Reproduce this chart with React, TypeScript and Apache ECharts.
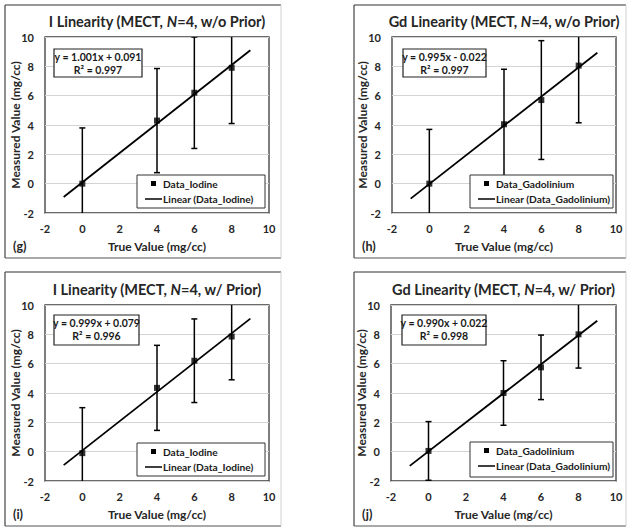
import React, { useEffect, useRef } from "react";
import * as echarts from "echarts";

// ---- data ----
const trueValues = [0, 4, 6, 8];

const iodineNoPriorMeasured = [0.0, 4.3, 6.2, 7.9];
const iodineNoPriorError = [3.8, 3.55, 3.8, 3.8];
const gdNoPriorMeasured = [0.0, 4.05, 5.7, 8.05];
const gdNoPriorError = [3.7, 3.75, 4.05, 3.9];
const iodinePriorMeasured = [-0.1, 4.35, 6.2, 7.85];
const iodinePriorError = [3.1, 2.9, 2.85, 2.95];
const gdPriorMeasured = [0.05, 4.0, 5.75, 8.0];
const gdPriorError = [2.0, 2.2, 2.2, 2.3];

// trend line end points (x = -1 and x = 9)
const iodineNoPriorTrend = [[-1, -0.91], [9, 9.1]];
const gdNoPriorTrend = [[-1, -1.02], [9, 8.93]];
const iodinePriorTrend = [[-1, -0.92], [9, 9.07]];
const gdPriorTrend = [[-1, -0.97], [9, 8.93]];

const equations = ["y = 1.001x + 0.091", "y = 0.995x - 0.022", "y = 0.999x + 0.079", "y = 0.990x + 0.022"];
const rSquared = ["R² = 0.997", "R² = 0.997", "R² = 0.996", "R² = 0.998"];
const elements = ["I", "Gd", "I", "Gd"];
const priorLabels = ["w/o Prior", "w/o Prior", "w/ Prior", "w/ Prior"];
const seriesNames = ["Data_Iodine", "Data_Gadolinium", "Data_Iodine", "Data_Gadolinium"];
const panelLabels = ["(g)", "(h)", "(i)", "(j)"];

const FONT = "Lato";

type Panel = {
  measured: number[];
  error: number[];
  trend: number[][];
  grid: { left: number; top: number; width: number; height: number };
  frame: [number, number, number, number];
  eqBox: [number, number, number, number];
  legendBox: [number, number, number, number];
};

const panels: Panel[] = [
  {
    measured: iodineNoPriorMeasured, error: iodineNoPriorError, trend: iodineNoPriorTrend,
    grid: { left: 45, top: 37, width: 224, height: 176 },
    frame: [5, 5, 281, 258], eqBox: [54, 49, 142, 77], legendBox: [137, 175, 265, 208],
  },
  {
    measured: gdNoPriorMeasured, error: gdNoPriorError, trend: gdNoPriorTrend,
    grid: { left: 392, top: 37, width: 224, height: 176 },
    frame: [354, 5, 626, 258], eqBox: [403, 49, 486, 77], legendBox: [470, 175, 613, 208],
  },
  {
    measured: iodinePriorMeasured, error: iodinePriorError, trend: iodinePriorTrend,
    grid: { left: 45, top: 305, width: 224, height: 176 },
    frame: [5, 272, 281, 526], eqBox: [54, 315, 139, 345], legendBox: [137, 443, 265, 476],
  },
  {
    measured: gdPriorMeasured, error: gdPriorError, trend: gdPriorTrend,
    grid: { left: 391, top: 305, width: 225, height: 176 },
    frame: [354, 272, 626, 526], eqBox: [402, 315, 486, 345], legendBox: [470, 442, 613, 477],
  },
];

export default function App() {
  const ref = useRef<HTMLDivElement>(null);

  useEffect(() => {
    if (!ref.current) return;
    const chart = echarts.init(ref.current, undefined, { renderer: "svg" });

    const grids: any[] = [];
    const xAxes: any[] = [];
    const yAxes: any[] = [];
    const series: any[] = [];
    const titles: any[] = [];
    const graphics: any[] = [];

    panels.forEach((p, k) => {
      grids.push({
        ...p.grid,
        show: true,
        borderColor: "#3a3a3a",
        borderWidth: 1.3,
        backgroundColor: "#fff",
        containLabel: false,
      });
      const axisCommon = {
        gridIndex: k,
        type: "value",
        min: -2,
        max: 10,
        interval: 2,
        axisLine: { show: false },
        axisTick: { show: false },
        nameLocation: "middle",
        nameMoveOverlap: false,
        nameTextStyle: { fontFamily: FONT, fontWeight: "bold", fontSize: 12, color: "#262626" },
        axisLabel: { fontFamily: FONT, fontWeight: "bold", fontSize: 11, color: "#262626" },
      };
      xAxes.push({
        ...axisCommon,
        name: "True Value (mg/cc)",
        nameGap: 27,
        splitLine: { show: false },
        axisLabel: { ...axisCommon.axisLabel, margin: 10 },
      });
      yAxes.push({
        ...axisCommon,
        name: "Measured Value (mg/cc)",
        nameGap: 24,
        splitLine: { show: true, lineStyle: { color: "#d4d4d4", width: 1 } },
        axisLabel: { ...axisCommon.axisLabel, margin: 11 },
      });

      series.push({
        type: "custom",
        name: seriesNames[k] + " error",
        xAxisIndex: k,
        yAxisIndex: k,
        clip: true,
        z: 3,
        data: trueValues.map((x, i) => [x, p.measured[i] - p.error[i], p.measured[i] + p.error[i]]),
        renderItem: (params: any, api: any) => {
          const x = api.value(0);
          const lo = api.value(1);
          const hi = api.value(2);
          const a = api.coord([x, lo]);
          const b = api.coord([x, hi]);
          const style = { stroke: "#000", lineWidth: 1.5 };
          const children: any[] = [
            { type: "line", shape: { x1: a[0], y1: a[1], x2: b[0], y2: b[1] }, style },
          ];
          if (lo >= -2) children.push({ type: "line", shape: { x1: a[0] - 3, y1: a[1], x2: a[0] + 3, y2: a[1] }, style });
          if (hi <= 10) children.push({ type: "line", shape: { x1: b[0] - 3, y1: b[1], x2: b[0] + 3, y2: b[1] }, style });
          return { type: "group", children };
        },
      });
      series.push({
        type: "line",
        name: "Linear (" + seriesNames[k] + ")",
        xAxisIndex: k,
        yAxisIndex: k,
        data: p.trend,
        showSymbol: false,
        symbol: "none",
        lineStyle: { color: "#000", width: 1.8 },
        z: 4,
      });
      series.push({
        type: "scatter",
        name: seriesNames[k],
        xAxisIndex: k,
        yAxisIndex: k,
        data: trueValues.map((x, i) => [x, p.measured[i]]),
        symbol: "rect",
        symbolSize: 6,
        itemStyle: { color: "#000" },
        z: 5,
      });

      titles.push({
        text: `{a|${elements[k]} Linearity (MECT, }{i|N}{a|=4, ${priorLabels[k]})}`,
        left: p.grid.left + p.grid.width / 2,
        top: p.grid.top - 23,
        textAlign: "center",
        padding: 0,
        textStyle: {
          rich: {
            a: { fontFamily: FONT, fontWeight: "bold", fontSize: 14.5, color: "#262626" },
            i: { fontFamily: FONT, fontWeight: "bold", fontStyle: "italic", fontSize: 14.5, color: "#262626" },
          },
        },
      });

      const [fx1, fy1, fx2, fy2] = p.frame;
      const frameZ = 1;
      graphics.push(
        { type: "line", z: frameZ, shape: { x1: fx1, y1: fy1, x2: fx2, y2: fy1 }, style: { stroke: "#333", lineWidth: 1.2 } },
        { type: "line", z: frameZ, shape: { x1: fx1, y1: fy1, x2: fx1, y2: fy2 }, style: { stroke: "#444", lineWidth: 1.2 } },
        { type: "line", z: frameZ, shape: { x1: fx1, y1: fy2, x2: fx2, y2: fy2 }, style: { stroke: "#555", lineWidth: 1.2 } },
        { type: "line", z: frameZ, shape: { x1: fx2, y1: fy1, x2: fx2, y2: fy2 }, style: { stroke: "#d0d0d0", lineWidth: 1 } },
      );

      graphics.push({
        type: "text",
        z: 10,
        left: fx1 + 8,
        top: fy2 - 18,
        style: { text: panelLabels[k], fontFamily: FONT, fontWeight: "bold", fontSize: 12.5, fill: "#262626" },
      });

      const [ex1, ey1, ex2, ey2] = p.eqBox;
      graphics.push({
        type: "rect",
        z: 10,
        shape: { x: ex1, y: ey1, width: ex2 - ex1, height: ey2 - ey1 },
        style: { fill: "#fff", stroke: "#222", lineWidth: 1.2 },
      });
      graphics.push({
        type: "text",
        z: 11,
        x: (ex1 + ex2) / 2,
        y: ey1 + 8,
        style: { text: equations[k], fontFamily: FONT, fontWeight: "bold", fontSize: 10.5, fill: "#1a1a1a", align: "center", verticalAlign: "middle" },
      });
      graphics.push({
        type: "text",
        z: 11,
        x: (ex1 + ex2) / 2,
        y: ey1 + 21,
        style: { text: rSquared[k], fontFamily: FONT, fontWeight: "bold", fontSize: 10.5, fill: "#1a1a1a", align: "center", verticalAlign: "middle" },
      });

      const [lx1, ly1, lx2, ly2] = p.legendBox;
      graphics.push({
        type: "rect",
        z: 10,
        shape: { x: lx1, y: ly1, width: lx2 - lx1, height: ly2 - ly1 },
        style: { fill: "#fff", stroke: "#333", lineWidth: 1 },
      });
      graphics.push({
        type: "rect",
        z: 11,
        shape: { x: lx1 + 14, y: ly1 + 6, width: 5, height: 5 },
        style: { fill: "#000" },
      });
      graphics.push({
        type: "text",
        z: 11,
        x: lx1 + 26,
        y: ly1 + 9,
        style: { text: seriesNames[k], fontFamily: FONT, fontWeight: "bold", fontSize: 10.2, fill: "#1a1a1a", verticalAlign: "middle" },
      });
      graphics.push({
        type: "line",
        z: 11,
        shape: { x1: lx1 + 8, y1: ly1 + 24, x2: lx1 + 25, y2: ly1 + 24 },
        style: { stroke: "#000", lineWidth: 1.5 },
      });
      graphics.push({
        type: "text",
        z: 11,
        x: lx1 + 26,
        y: ly1 + 24,
        style: { text: "Linear (" + seriesNames[k] + ")", fontFamily: FONT, fontWeight: "bold", fontSize: 10.2, fill: "#1a1a1a", verticalAlign: "middle" },
      });
    });

    chart.setOption({
      animation: false,
      backgroundColor: "#fff",
      title: titles,
      grid: grids,
      xAxis: xAxes,
      yAxis: yAxes,
      series,
      graphic: { elements: graphics },
    });

    return () => chart.dispose();
  }, []);

  return (
    <div
      ref={ref}
      style={{ position: "absolute", left: 0, top: 0, width: 635, height: 532, background: "#fff" }}
    />
  );
}
